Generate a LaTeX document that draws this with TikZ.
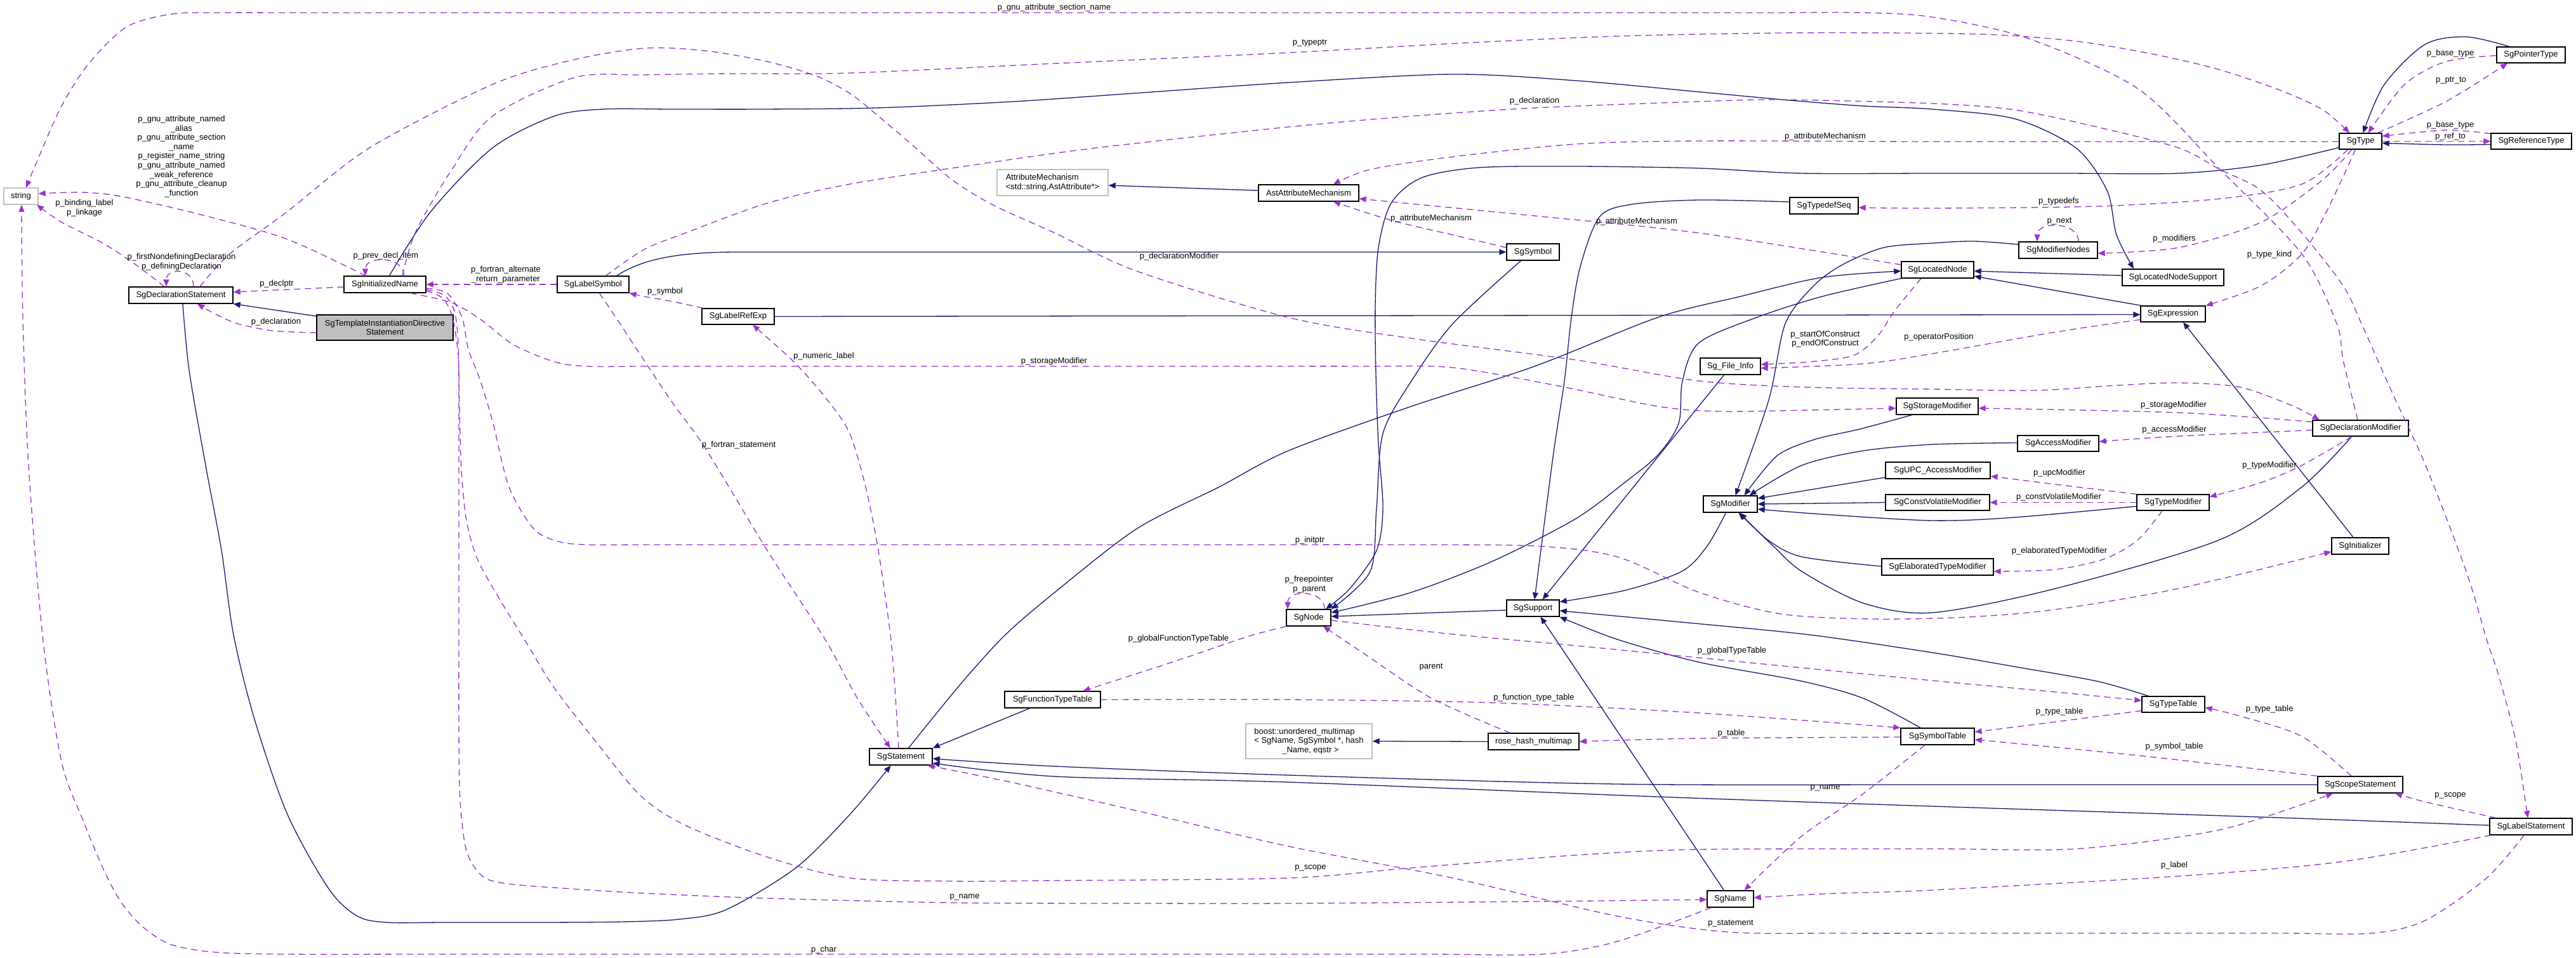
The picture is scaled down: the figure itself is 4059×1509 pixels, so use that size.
\documentclass[tikz,border=0pt]{standalone}
\usepackage{fontspec}
\setmainfont{Liberation Sans}
\usetikzlibrary{arrows.meta}
\definecolor{inhc}{HTML}{191970}
\definecolor{usec}{HTML}{9A32CD}
\definecolor{extb}{HTML}{BFBFBF}
\newcommand\fsz{\fontsize{13}{14.6}\selectfont}
\tikzset{
 cls/.style={draw=black, line width=1.3pt, fill=white, inner sep=0pt, minimum height=26pt, font=\fsz, align=center},
 ext/.style={cls, draw=extb},
 inh/.style={draw=inhc, line width=1.3pt, -{Triangle[length=11pt,width=9pt]}},
 use/.style={draw=usec, line width=1.3pt, dash pattern=on 10pt off 7pt, -{Triangle[length=11pt,width=9pt]}},
 lab/.style={font=\fsz, inner sep=0pt, align=center},
}
\begin{document}
\begin{tikzpicture}[x=1pt,y=-1pt]
\useasboundingbox (0,0) rectangle (4059,1509);
\fill[white] (0,0) rectangle (4059,1509);
% nodes
\node[ext, minimum width=54pt] (string) at (33,309) {string};
\node[cls, minimum width=164pt] (decl) at (285,465) {SgDeclarationStatement};
\node[cls, minimum width=129pt] (iname) at (606.5,448) {SgInitializedName};
\node[cls, minimum width=113pt] (lsym) at (934.5,448) {SgLabelSymbol};
\node[cls, fill=extb, minimum width=215pt, minimum height=40pt] (tids) at (606.5,516) {SgTemplateInstantiationDirective\\Statement};
\node[ext, minimum width=175pt, minimum height=41pt, align=left] (attm) at (1658.5,287.5) {AttributeMechanism\\<std::string,AstAttribute*>};
\node[cls, minimum width=158pt] (astam) at (2062,304) {AstAttributeMechanism};
\node[cls, minimum width=114pt, minimum height=25pt] (lref) at (1163,498.5) {SgLabelRefExp};
\node[cls, minimum width=83pt] (sym) at (2415.5,397) {SgSymbol};
\node[cls, minimum width=108pt] (tds) at (2874,324) {SgTypedefSeq};
\node[cls, minimum width=114pt] (lnode) at (3053,425) {SgLocatedNode};
\node[cls, minimum width=67pt, minimum height=25pt] (type) at (3719.5,222.5) {SgType};
\node[cls, minimum width=108pt, minimum height=25pt] (ptr) at (3988,86.5) {SgPointerType};
\node[cls, minimum width=127pt, minimum height=25pt] (ref) at (3988.5,222.5) {SgReferenceType};
\node[cls, minimum width=124pt] (modn) at (3243,394) {SgModifierNodes};
\node[cls, minimum width=160pt] (lns) at (3424,437) {SgLocatedNodeSupport};
\node[cls, minimum width=102pt, minimum height=25pt] (expr) at (3424,494.5) {SgExpression};
\node[cls, minimum width=95pt] (fi) at (2726.5,577) {Sg\_File\_Info};
\node[cls, minimum width=129pt] (stm) at (3052.5,640) {SgStorageModifier};
\node[cls, minimum width=85pt] (mod) at (2726.5,794) {SgModifier};
\node[cls, minimum width=165pt] (upc) at (3053.5,741) {SgUPC\_AccessModifier};
\node[cls, minimum width=164pt, minimum height=25pt] (cvm) at (3053,791.5) {SgConstVolatileModifier};
\node[cls, minimum width=176pt] (etm) at (3053,893) {SgElaboratedTypeModifier};
\node[cls, minimum width=70pt] (node) at (2062,973) {SgNode};
\node[cls, minimum width=83pt] (sup) at (2415.5,958) {SgSupport};
\node[cls, minimum width=128pt, minimum height=25pt] (acc) at (3243,698.5) {SgAccessModifier};
\node[cls, minimum width=151pt, minimum height=25pt] (dmod) at (3719.5,674.5) {SgDeclarationModifier};
\node[cls, minimum width=114pt, minimum height=25pt] (tmod) at (3424,791.5) {SgTypeModifier};
\node[cls, minimum width=90pt] (init) at (3719,860) {SgInitializer};
\node[cls, minimum width=99pt] (stmt) at (1419.5,1192) {SgStatement};
\node[cls, minimum width=151pt] (ftt) at (1658.5,1102) {SgFunctionTypeTable};
\node[ext, minimum width=199pt, minimum height=55pt, align=left] (boost) at (2062.5,1167.5) {boost::unordered\_multimap\\< SgName, SgSymbol *, hash\\\hspace*{44pt}\_Name, eqstr >};
\node[cls, minimum width=143pt] (rhm) at (2416.5,1168) {rose\_hash\_multimap};
\node[cls, minimum width=116pt] (symt) at (3053,1160) {SgSymbolTable};
\node[cls, minimum width=73pt] (name) at (2726.5,1416) {SgName};
\node[cls, minimum width=99pt, minimum height=25pt] (tt) at (3424.5,1109.5) {SgTypeTable};
\node[cls, minimum width=134pt] (scope) at (3719,1236) {SgScopeStatement};
\node[cls, minimum width=130pt] (lstmt) at (3988,1302) {SgLabelStatement};

% inheritance edges
\draw[inh] ([yshift=18pt]tids.west) -- (decl.south east);
\draw[inh] plot[smooth] coordinates {([xshift=3pt]decl.south) (298,583) (324,733) (349,867) (368,1000) (401,1133) (453,1283) (518,1400) (563,1443) (610,1453) (700,1453) (850,1453) (980,1452) (1070,1448) (1144,1433) (1254,1367) (1339,1283) ([xshift=-16pt]stmt.south)};
\draw[inh] plot[smooth] coordinates {([xshift=12pt]stmt.north) (1468,1133) (1520,1070) (1584,1000) (1662,933) (1791,833) (1921,767) (2030,710) (2224,640) (2418,577) (2612,500) (2742,467) (2871,437) ([yshift=-2pt]lnode.west)};
\draw[inh] ([xshift=37pt]lsym.north) .. controls (1010,410) and (1060,397) .. (1164,397) -- (sym.west);
\draw[inh] plot[smooth] coordinates {([xshift=7pt]iname.north) (679,333) (776,233) (873,183) (950,172) (1060,172) (1200,172) (1380,170) (1597,160) (1800,146) (2030,130) (2289,117) (2483,127) (2680,145) (2820,158) (2936,167) (3045,172) (3174,187) (3271,233) (3320,300) (3335,370) ([xshift=-62pt]lns.north)};
\draw[inh] (lref.east) -- ([yshift=-1pt]expr.west);
\draw[inh] ([yshift=4pt]astam.west) -- ([yshift=-4.5pt]attm.east);
\draw[inh] plot[smooth] coordinates {([xshift=-19pt]sym.south) (2289,510) (2224,600) (2179,683) (2169,800) (2159,900) (node.north east)};
\draw[inh] plot[smooth] coordinates {([yshift=-10pt]type.west) (3563,260) (3433,273) (3250,273) (3045,273) (2839,273) (2677,265) (2483,262) (2330,264) (2240,280) (2192,320) (2172,390) (2167,480) (2168,590) (2172,700) (2179,800) (2169,867) (2127,927) ([xshift=27pt]node.north)};
\draw[inh] plot[smooth] coordinates {(lnode.south west) (2871,467) (2768,500) (2677,540) (2651,600) (2645,667) (2612,717) (2560,760) (2483,817) (2354,883) (2224,933) ([yshift=8pt]node.east)};
\draw[inh] ([yshift=-3pt]sup.west) -- ([yshift=2pt]node.east);
\draw[inh] plot[smooth] coordinates {([yshift=6pt]tds.west) (2677,315) (2570,322) (2520,342) (2490,420) (2476,500) (2465,600) (2447,720) ([xshift=2.5pt]sup.north)};
\draw[inh] ([xshift=-10pt]fi.south) -- ([xshift=15pt]sup.north);
\draw[inh] plot[smooth] coordinates {([xshift=-7pt]mod.south) (2690,860) (2650,900) (2560,930) ([yshift=10pt]sup.east)};
\draw[inh] plot[smooth] coordinates {([xshift=-27pt]symt.north) (2936,1100) (2839,1073) (2677,1043) (2548,1007) (sup.south east)};
\draw[inh] plot[smooth] coordinates {([xshift=-39pt]tt.north) (3304,1073) (3174,1050) (3045,1028) (2852,1000) (2650,980) ([yshift=-4pt]sup.east)};
\draw[inh] ([xshift=-10pt]name.north) -- ([xshift=12pt]sup.south);
\draw[inh] ([xshift=-36pt]ftt.south) -- (stmt.north east);
\draw[inh] (rhm.west) -- (boost.east);
\draw[inh] plot[smooth] coordinates {(scope.west) (3045,1236) (2548,1235) (2030,1221) (1662,1207) ([yshift=-3pt]stmt.east)};
\draw[inh] plot[smooth] coordinates {([yshift=2pt]lstmt.west) (3563,1287) (3045,1270) (2612,1255) (2030,1232) (1662,1223) ([yshift=-10pt]stmt.east)};
\draw[inh] ([yshift=3pt]lns.west) -- ([yshift=-2pt]lnode.east);
\draw[inh] ([xshift=-50pt]expr.north) -- ([yshift=-10pt]lnode.east);
\draw[inh] ([xshift=-11pt]init.north) -- ([xshift=16pt]expr.south);
\draw[inh] plot[smooth] coordinates {([yshift=9pt]modn.west) (3110,380) (3045,383) (2968,390) (2903,417) (2858,450) (2813,510) (2787,630) ([xshift=8pt]mod.north)};
\draw[inh] plot[smooth] coordinates {([xshift=-40pt]stm.south) (2930,676) (2860,692) (2800,718) ([xshift=22pt]mod.north)};
\draw[inh] plot[smooth] coordinates {([yshift=1pt]acc.west) (3045,700) (2936,710) (2839,733) ([xshift=30pt]mod.north)};
\draw[inh] ([yshift=-11pt]upc.west) -- ([yshift=9pt]mod.east);
\draw[inh] (cvm.west) -- (mod.east);
\draw[inh] plot[smooth] coordinates {([yshift=-6pt]tmod.west) (3174,815) (3045,820) (2871,810) ([yshift=-8pt]mod.east)};
\draw[inh] plot[smooth] coordinates {([yshift=1pt]etm.west) (2839,877) (2785,850) ([xshift=15pt]mod.south)};
\draw[inh] plot[smooth] coordinates {([xshift=-14pt]dmod.south) (3627,767) (3498,850) (3239,927) (3045,965) (2936,950) (2839,900) (2794,860) ([xshift=13pt]mod.south)};
\draw[inh] plot[smooth] coordinates {([xshift=-34pt]ptr.north) (3886,58) (3821,70) (3757,133) ([xshift=4pt]type.north)};
\draw[inh] plot[smooth] coordinates {([yshift=-5pt]ref.west) (3854,228) ([yshift=-3pt]type.east)};

% usage edges
\draw[use] plot[smooth] coordinates {([xshift=-4.5pt]dmod.north) (3692,567) (3682,510) (3627,400) (3498,267) (3369,140) (3194,60) (3045,27) (2936,20) (2780,20) (2550,20) (2200,20) (1700,20) (1200,20) (800,20) (500,20) (350,20) (272,22) (200,42) (140,100) (97,167) (60,250) ([xshift=8pt]string.north)};
\draw[use] plot[smooth] coordinates {([xshift=27.5pt]iname.north) (655,365) (712,267) (776,183) (906,122) (1015,118) (1150,116) (1338,115) (1662,100) (2030,83) (2300,68) (2548,57) (2800,52) (3000,52) (3150,55) (3280,66) (3401,87) (3498,110) (3595,143) (3660,173) ([xshift=-17.5pt]type.north)};
\draw[use] plot[smooth] coordinates {([xshift=-30.5pt]iname.north) (453,377) (324,340) (194,310) (129,303) ([yshift=4pt]string.east)};
\draw[use] plot[smooth] coordinates {([xshift=-26pt]decl.north) (214,417) (162,383) (97,350) ([xshift=25pt]string.south)};
\draw[use] ([xshift=20pt]decl.north) .. controls +(0pt,30pt) and +(0pt,30pt) .. ([xshift=-23pt]decl.north);
\draw[use] ([yshift=-4pt]iname.west) -- ([yshift=5pt]decl.east);
\draw[use] ([xshift=30pt]iname.north) .. controls +(0pt,32pt) and +(0pt,32pt) .. ([xshift=-31pt]iname.north);
\draw[use] (lsym.west) -- (iname.east);
\draw[use] plot[smooth] coordinates {([yshift=-8pt]tids.west) (430,521) (375,510) (340,495) ([xshift=26pt]decl.south)};
\draw[use] plot[smooth] coordinates {([xshift=-55pt]lref.north) (1060,475) (1015,467) (lsym.south east)};
\draw[use] plot[smooth] coordinates {([xshift=-3.5pt]stmt.north) (1410,1083) (1403,1000) (1384,867) (1364,767) (1339,683) (1306,633) (1254,573) ([xshift=23pt]lref.south)};
\draw[use] plot[smooth] coordinates {([xshift=10pt]lsym.south) (977,510) (1015,568) (1060,635) (1112,707) (1209,867) (1300,1007) (1351,1100) ([xshift=-16.5pt]stmt.north)};
\draw[use] plot[smooth] coordinates {([xshift=40pt]iname.south) (712,477) (760,505) (809,543) (874,570) (925,577) (1015,577) (1150,577) (1350,577) (1650,577) (1950,577) (2150,577) (2289,579) (2451,607) (2612,640) (2709,648) (2850,646) ([yshift=-3pt]stm.west)};
\draw[use] plot[smooth] coordinates {([yshift=-6pt]iname.east) (705,462) (728,500) (738,550) (757,600) (777,667) (802,767) (841,833) (880,853) (925,858) (1015,858) (1150,858) (1350,858) (1650,858) (1950,858) (2200,858) (2418,860) (2548,877) (2677,933) (2806,967) (2950,975) (3100,972) (3239,960) (3433,927) ([yshift=-9pt]init.west)};
\draw[use] plot[smooth] coordinates {([yshift=-8pt]iname.east) (700,465) (716,490) (722,540) (723,620) (723,750) (723,950) (723,1150) (725,1260) (735,1340) (760,1380) (800,1392) (900,1400) (1015,1407) (1209,1415) (1507,1422) (1800,1423) (2030,1423) (2418,1420) ([yshift=-1pt]name.west)};
\draw[use] plot[smooth] coordinates {([yshift=-10pt]iname.east) (698,470) (713,500) (722,560) (724,640) (727,740) (735,820) (752,880) (785,940) (828,1010) (873,1083) (938,1167) (1009,1253) (1080,1300) (1209,1350) (1339,1383) (1500,1388) (1662,1387) (2030,1383) (2224,1367) (2483,1347) (2677,1338) (3045,1337) (3272,1337) (3498,1307) ([xshift=-43pt]scope.south)};
\draw[use] plot[smooth] coordinates {([xshift=-30pt]name.south) (2548,1483) (2431,1503) (2250,1503) (1950,1503) (1500,1503) (1050,1503) (700,1503) (450,1503) (340,1500) (270,1488) (225,1460) (190,1420) (162,1367) (130,1290) (97,1200) (68,1010) (45,733) (36,500) ([xshift=1pt]string.south)};
\draw[use] plot[smooth] coordinates {([xshift=30pt]decl.north) (362,400) (453,333) (582,233) (776,133) (900,95) (1015,76) (1112,80) (1209,97) (1287,120) (1339,147) (1377,177) (1436,227) (1500,283) (1565,323) (1662,367) (1791,427) (2030,500) (2224,533) (2483,567) (2677,600) (2850,610) (3045,613) (3207,615) (3336,607) (3433,603) (3530,610) (3614,640) ([xshift=-65pt]dmod.north)};
\draw[use] plot[smooth] coordinates {([xshift=20pt]lsym.north) (1015,393) (1080,367) (1209,320) (1339,290) (1533,260) (1727,233) (2030,200) (2224,183) (2418,170) (2677,160) (2806,157) (3045,163) (3174,173) (3304,200) (3433,233) (3498,267) (3563,300) (3627,367) (3692,450) (3721,510) (3770,620) (3822,733) (3886,900) (3919,1010) (3938,1067) (3964,1167) ([xshift=-5pt]lstmt.north)};
\draw[use] plot[smooth] coordinates {([yshift=-0.5pt]type.west) (3045,223) (2677,222) (2483,227) (2289,247) (2159,267) ([xshift=39pt]astam.north)};
\draw[use] plot[smooth] coordinates {([yshift=7pt]sym.west) (2289,370) (2192,347) ([xshift=39pt]astam.south)};
\draw[use] plot[smooth] coordinates {([yshift=8pt]lnode.west) (2677,367) (2418,340) ([yshift=-9pt]astam.east)};
\draw[use] plot[smooth] coordinates {([xshift=-20pt]type.south) (3627,290) (3498,313) (3304,325) (3045,328) ([yshift=-3pt]tds.east)};
\draw[use] plot[smooth] coordinates {([xshift=-14pt]type.south) (3660,283) (3563,350) (3433,390) ([yshift=-5pt]modn.east)};
\draw[use] ([xshift=32pt]modn.north) .. controls +(0pt,32pt) and +(0pt,32pt) .. ([xshift=-33pt]modn.north);
\draw[use] plot[smooth] coordinates {([xshift=-8pt]type.south) (3666,333) (3627,400) (3563,450) (expr.north east)};
\draw[use] plot[smooth] coordinates {([yshift=-1pt]ptr.west) (3854,97) (3789,133) ([xshift=12pt]type.north)};
\draw[use] plot[smooth] coordinates {([xshift=27pt]type.north) (3854,160) ([xshift=-37pt]ptr.south)};
\draw[use] plot[smooth] coordinates {([yshift=12pt]ref.west) (3854,205) ([yshift=8pt]type.east)};
\draw[use] (type.east) -- (ref.west);
\draw[use] plot[smooth] coordinates {([yshift=-9pt]expr.west) (3239,523) (3045,557) (2936,573) ([yshift=-3pt]fi.east)};
\draw[use] plot[smooth] coordinates {([xshift=-26pt]lnode.south) (2985,490) (2958,530) (2920,560) (2850,570) ([yshift=3pt]fi.east)};
\draw[use] plot[smooth] coordinates {([yshift=10pt]dmod.west) (3433,650) ([yshift=-3pt]stm.east)};
\draw[use] plot[smooth] coordinates {([yshift=-3pt]dmod.west) (3433,687) ([yshift=3pt]acc.east)};
\draw[use] plot[smooth] coordinates {([xshift=-14pt]dmod.south) (3627,733) (3563,760) ([yshift=9pt]tmod.east)};
\draw[use] plot[smooth] coordinates {(tmod.north west) (3239,763) ([yshift=-9pt]upc.east)};
\draw[use] (tmod.west) -- (cvm.east);
\draw[use] plot[smooth] coordinates {([xshift=-17pt]tmod.south) (3369,850) (3317,880) (3239,897) ([yshift=-7pt]etm.east)};
\draw[use] plot[smooth] coordinates {(node.south west) (1965,1003) (1856,1040) ([xshift=48pt]ftt.north)};
\draw[use] plot[smooth] coordinates {([xshift=-37pt]rhm.north) (2256,1100) (2150,1030) ([xshift=23pt]node.south)};
\draw[use] plot[smooth] coordinates {([yshift=-4pt]node.east) (2224,992) (2330,1003) (2483,1017) (2677,1036) (3045,1072) (3239,1090) ([yshift=6pt]tt.west)};
\draw[use] plot[smooth] coordinates {(ftt.east) (2030,1102) (2354,1107) (2677,1123) (symt.north west)};
\draw[use] plot[smooth] coordinates {([yshift=-1pt]symt.west) (2677,1163) (rhm.east)};
\draw[use] plot[smooth] coordinates {([xshift=-20pt]symt.south) (2936,1250) (2839,1317) ([xshift=22pt]name.north)};
\draw[use] plot[smooth] coordinates {([yshift=-10pt]tt.west) (3239,1137) ([yshift=7pt]symt.east)};
\draw[use] plot[smooth] coordinates {(scope.north west) (3369,1190) ([yshift=-5pt]symt.east)};
\draw[use] plot[smooth] coordinates {([xshift=-14pt]scope.north) (3627,1160) (3530,1128) ([yshift=-5pt]tt.east)};
\draw[use] plot[smooth] coordinates {([xshift=-55pt]lstmt.north) (3821,1263) ([xshift=55pt]scope.south)};
\draw[use] plot[smooth] coordinates {([xshift=-63pt]lstmt.south) (3692,1357) (3433,1380) (3045,1402) (2871,1408) ([yshift=2pt]name.east)};
\draw[use] plot[smooth] coordinates {([xshift=-11pt]lstmt.south) (3918,1383) (3821,1450) (3737,1470) (3600,1470) (3400,1470) (3150,1470) (2900,1470) (2722,1468) (2548,1443) (2289,1383) (2030,1333) (1791,1277) (1597,1233) ([xshift=42pt]stmt.south)};
\draw[use] ([xshift=25pt]node.north) .. controls +(0pt,31pt) and +(0pt,31pt) .. ([xshift=-33pt]node.north);

% labels
\node[lab] (l1) at (1661,12) {p\_gnu\_attribute\_section\_name};
\node[lab] (l2) at (286,246.5) {p\_gnu\_attribute\_named\\\_alias\\p\_gnu\_attribute\_section\\\_name\\p\_register\_name\_string\\p\_gnu\_attribute\_named\\\_weak\_reference\\p\_gnu\_attribute\_cleanup\\\_function};
\node[lab] (l3) at (133,327.5) {p\_binding\_label\\p\_linkage};
\node[lab] (l4) at (286,412.5) {p\_firstNondefiningDeclaration\\p\_definingDeclaration};
\node[lab] (l5) at (608,403) {p\_prev\_decl\_item};
\node[lab] (l6) at (436,447) {p\_declptr};
\node[lab] (l7) at (797,432.5) {p\_fortran\_alternate\\\_return\_parameter};
\node[lab] (l8) at (435,507) {p\_declaration};
\node[lab] (l9) at (1048,459) {p\_symbol};
\node[lab] (l10) at (1858,404) {p\_declarationModifier};
\node[lab] (l11) at (2064,68) {p\_typeptr};
\node[lab] (l12) at (2418,159) {p\_declaration};
\node[lab] (l13) at (2876,215) {p\_attributeMechanism};
\node[lab] (l14) at (2255,344) {p\_attributeMechanism};
\node[lab] (l15) at (2579,349) {p\_attributeMechanism};
\node[lab] (l16) at (3244,317) {p\_typedefs};
\node[lab] (l17) at (3245,349) {p\_next};
\node[lab] (l18) at (3426,376) {p\_modifiers};
\node[lab] (l19) at (3576,401) {p\_type\_kind};
\node[lab] (l20) at (3861,84) {p\_base\_type};
\node[lab] (l21) at (3862,127) {p\_ptr\_to};
\node[lab] (l22) at (3861,197) {p\_base\_type};
\node[lab] (l23) at (3861,215) {p\_ref\_to};
\node[lab] (l24) at (1298,561) {p\_numeric\_label};
\node[lab] (l25) at (1661,569) {p\_storageModifier};
\node[lab] (l26) at (1164,701) {p\_fortran\_statement};
\node[lab] (l27) at (1857,1006) {p\_globalFunctionTypeTable};
\node[lab] (l28) at (2876,534) {p\_startOfConstruct\\p\_endOfConstruct};
\node[lab] (l29) at (3055,531) {p\_operatorPosition};
\node[lab] (l30) at (2064,851) {p\_initptr};
\node[lab] (l31) at (2063,920.5) {p\_freepointer\\p\_parent};
\node[lab] (l32) at (3425,638) {p\_storageModifier};
\node[lab] (l33) at (3426,677) {p\_accessModifier};
\node[lab] (l34) at (3576,733) {p\_typeModifier};
\node[lab] (l35) at (3245,745) {p\_upcModifier};
\node[lab] (l36) at (3244,783) {p\_constVolatileModifier};
\node[lab] (l37) at (3245,868) {p\_elaboratedTypeModifier};
\node[lab] (l38) at (1520,1413) {p\_name};
\node[lab] (l39) at (1298,1496) {p\_char};
\node[lab] (l40) at (2255,1051) {parent};
\node[lab] (l41) at (2729,1025) {p\_globalTypeTable};
\node[lab] (l42) at (2417,1099) {p\_function\_type\_table};
\node[lab] (l43) at (2728,1155) {p\_table};
\node[lab] (l44) at (2876,1241) {p\_name};
\node[lab] (l45) at (2065,1367) {p\_scope};
\node[lab] (l46) at (2727,1455) {p\_statement};
\node[lab] (l47) at (3245,1121) {p\_type\_table};
\node[lab] (l48) at (3576,1117) {p\_type\_table};
\node[lab] (l49) at (3426,1176) {p\_symbol\_table};
\node[lab] (l50) at (3861,1253) {p\_scope};
\node[lab] (l51) at (3426,1363) {p\_label};
\end{tikzpicture}
\end{document}
